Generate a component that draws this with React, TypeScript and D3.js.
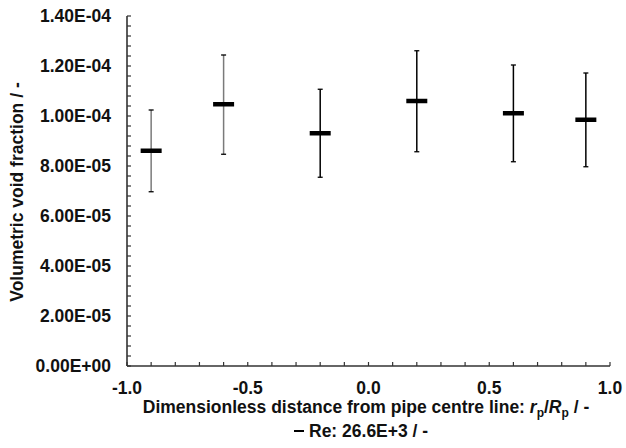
import React from "react";
import * as d3 from "d3";

const positions = [-0.9, -0.6, -0.2, 0.2, 0.6, 0.9];
const means = [8.61e-5, 1.047e-4, 9.31e-5, 1.06e-4, 1.011e-4, 9.85e-5];
const upper = [1.024e-4, 1.244e-4, 1.107e-4, 1.261e-4, 1.204e-4, 1.172e-4];
const lower = [6.97e-5, 8.47e-5, 7.55e-5, 8.57e-5, 8.17e-5, 7.97e-5];
const barColors = ["#7a7a7a", "#7a7a7a", "#000", "#000", "#000", "#000"];
const xTickLabels = [-1.0, -0.5, 0.0, 0.5, 1.0];
const yTickLabels = [0, 2e-5, 4e-5, 6e-5, 8e-5, 1e-4, 1.2e-4, 1.4e-4];

const W = 626, H = 448;
const left = 127, right = 610, top = 16, bottom = 366;
const font = "'Liberation Sans', Arial, sans-serif";
const fs = 17.5;

function fmtExp(v: number) {
  if (v === 0) return "0.00E+00";
  const e = Math.floor(Math.log10(v) + 1e-9);
  const m = v / Math.pow(10, e);
  const s = e < 0 ? "-" : "+";
  return m.toFixed(2) + "E" + s + String(Math.abs(e)).padStart(2, "0");
}

export default function App() {
  const x = d3.scaleLinear().domain([-1, 1]).range([left, right]);
  const y = d3.scaleLinear().domain([0, 1.4e-4]).range([bottom, top]);
  const yMinor = d3.range(0, 1.4e-4 + 1e-12, 4e-6);
  const xMinor = d3.range(-1, 1.0001, 0.1);
  return (
    <svg width={W} height={H} style={{ position: "absolute", left: 0, top: 0, background: "#fff" }}>
      {yMinor.map((v, i) => (
        <line key={"ym" + i} x1={left} x2={left + 4} y1={y(v)} y2={y(v)} stroke="#333" strokeWidth={1.2} />
      ))}
      {xMinor.map((v, i) => (
        <line key={"xm" + i} x1={x(v)} x2={x(v)} y1={bottom} y2={bottom - 4} stroke="#333" strokeWidth={1.2} />
      ))}
      <line x1={left} x2={left} y1={top} y2={bottom} stroke="#333" strokeWidth={1.6} />
      <line x1={left} x2={right} y1={bottom} y2={bottom} stroke="#333" strokeWidth={1.6} />
      {yTickLabels.map((v, i) => (
        <text key={"yl" + i} x={111} y={y(v)} dy="0.36em" textAnchor="end" fontFamily={font} fontWeight="bold" fontSize={fs} fill="#111">
          {fmtExp(v)}
        </text>
      ))}
      {xTickLabels.map((v, i) => (
        <text key={"xl" + i} x={x(v)} y={394} textAnchor="middle" fontFamily={font} fontWeight="bold" fontSize={fs} fill="#111">
          {v.toFixed(1)}
        </text>
      ))}
      {positions.map((p, i) => (
        <g key={"eb" + i}>
          <line x1={x(p)} x2={x(p)} y1={y(upper[i])} y2={y(lower[i])} stroke={barColors[i]} strokeWidth={1.5} />
          <line x1={x(p) - 2.5} x2={x(p) + 2.5} y1={y(upper[i])} y2={y(upper[i])} stroke="#000" strokeWidth={1.3} />
          <line x1={x(p) - 2.5} x2={x(p) + 2.5} y1={y(lower[i])} y2={y(lower[i])} stroke="#000" strokeWidth={1.3} />
          <line x1={x(p) - 10.5} x2={x(p) + 10.5} y1={y(means[i])} y2={y(means[i])} stroke="#000" strokeWidth={4.5} />
        </g>
      ))}
      <text transform={`translate(17,192) rotate(-90)`} textAnchor="middle" dy="0.36em" fontFamily={font} fontWeight="bold" fontSize={fs} fill="#111">
        Volumetric void fraction / -
      </text>
      <text x={366} y={413} textAnchor="middle" fontFamily={font} fontWeight="bold" fontSize={fs} fill="#111">
        Dimensionless distance from pipe centre line: <tspan fontStyle="italic">r</tspan>
        <tspan fontSize={12} dy={4}>p</tspan>
        <tspan dy={-4}>/</tspan>
        <tspan fontStyle="italic">R</tspan>
        <tspan fontSize={12} dy={4}>p</tspan>
        <tspan dy={-4}> / -</tspan>
      </text>
      <line x1={294} x2={304} y1={431} y2={431} stroke="#000" strokeWidth={2} />
      <text x={309} y={437} fontFamily={font} fontWeight="bold" fontSize={fs} fill="#111">
        Re: 26.6E+3 / -
      </text>
    </svg>
  );
}
